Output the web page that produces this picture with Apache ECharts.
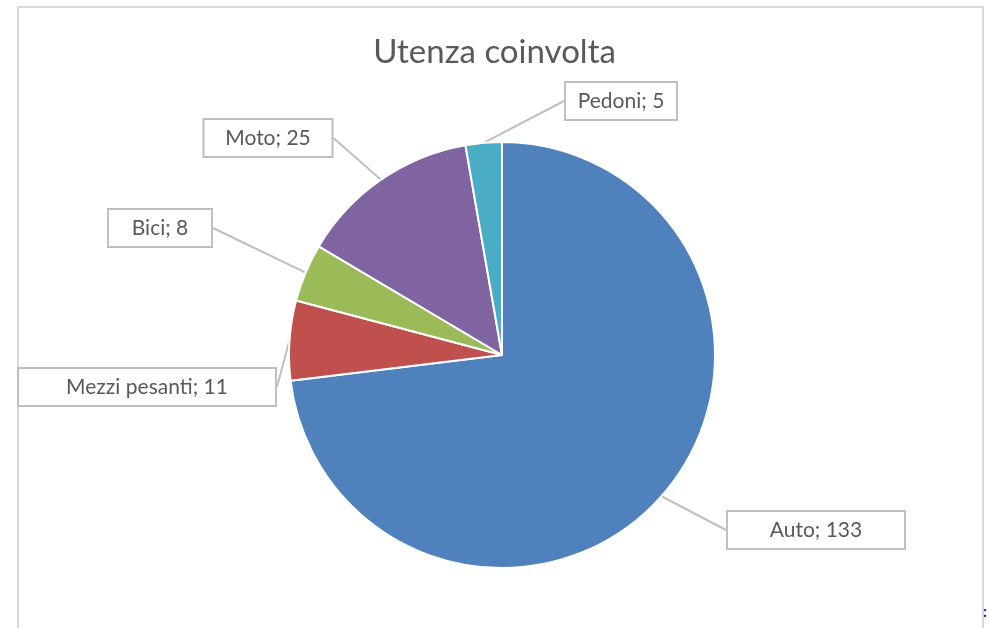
<!DOCTYPE html>
<html>
<head>
<meta charset="utf-8">
<script src="https://cdn.jsdelivr.net/npm/echarts@6/dist/echarts.min.js"></script>
<style>
  html, body { margin: 0; padding: 0; background: #fff; }
  #chart { width: 989px; height: 628px; }
</style>
</head>
<body>
<div id="chart"></div>
<script>
const categories = ["Auto", "Mezzi pesanti", "Bici", "Moto", "Pedoni"]
const values = [133, 11, 8, 25, 5]
const colors = ["#4F81BD", "#C0504D", "#9BBB59", "#8064A2", "#4BACC6"]

// callout boxes: centre x, centre y, box width (Excel places them by hand)
const boxes = [
	[816, 530, 176],
	[147, 387, 256],
	[160, 228, 102],
	[268, 138, 127],
	[621, 101, 110],
]

const chart = echarts.init(document.getElementById("chart"))

const data = categories.map((name, i) => ({
	name: name,
	value: values[i],
	itemStyle: { color: colors[i] },
	label: { width: boxes[i][2] },
}))

chart.setOption({
	animation: false,
	title: {
		text: "Utenza coinvolta",
		left: "center",
		top: 31,
		textStyle: {
			fontFamily: "Lato",
			fontWeight: "normal",
			fontSize: 33,
			color: "#595959",
		},
	},
	graphic: [
		{
			type: "rect",
			shape: { x: 18, y: 7, width: 965, height: 660 },
			style: { fill: "none", stroke: "#D9D9D9", lineWidth: 2 },
			silent: true,
		},
		{
			type: "text",
			left: 983,
			top: 604,
			style: { text: ":", fill: "#1a2fa0", font: "bold 16px Lato" },
		},
	],
	series: [
		{
			type: "pie",
			center: [502, 355],
			radius: 213,
			startAngle: 90,
			clockwise: true,
			data: data,
			itemStyle: { borderColor: "#fff", borderWidth: 2 },
			label: {
				show: true,
				position: "outside",
				formatter: "{b}; {c}",
				fontFamily: "Lato",
				fontSize: 21,
				lineHeight: 22,
				color: "#595959",
				backgroundColor: "#fff",
				borderColor: "#BFBFBF",
				borderWidth: 2,
				padding: [7, 0],
				align: "center",
			},
			labelLine: {
				show: true,
				length: 0,
				length2: 0,
				lineStyle: { color: "#BFBFBF", width: 2 },
			},
			labelLayout: (p) => {
				const b = boxes[p.dataIndex]
				return { x: b[0], y: b[1], align: "center", verticalAlign: "middle" }
			},
		},
	],
})
</script>
</body>
</html>
